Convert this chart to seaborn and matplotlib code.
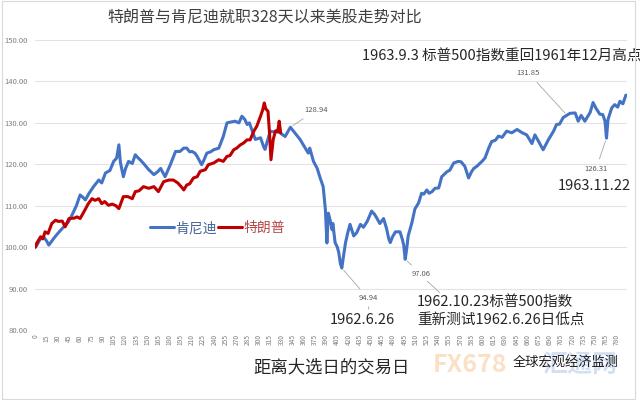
import pandas as pd
import matplotlib.pyplot as plt
import seaborn as sns
from matplotlib.patches import Rectangle

# trading days since election day, index level (day 0 = 100)
kennedy_days = [0, 2, 6, 11, 15, 18, 21, 25, 31, 38, 44, 49, 55, 60, 64, 67, 72, 78, 85, 89,
                94, 100, 105, 109, 112, 114, 118, 121, 125, 130, 134, 138, 141, 146, 152, 159,
                164, 168, 174, 181, 188, 194, 199, 203, 207, 210, 214, 217, 223, 226, 230, 235,
                239, 246, 252, 257, 262, 268, 273, 277, 281, 284, 287, 291, 295, 302, 306, 308,
                313, 315, 320, 324, 328, 335, 342, 348, 355, 360, 362, 366, 368, 373, 378, 382,
                386, 389, 391, 393, 396, 398, 399, 402, 405, 407, 409, 411, 413, 416, 419, 422,
                427, 431, 436, 440, 445, 451, 455, 458, 462, 467, 471, 474, 476, 479, 483, 489,
                492, 494, 496, 498, 500, 505, 509, 514, 518, 521, 525, 528, 532, 536, 541, 545,
                552, 556, 561, 567, 571, 576, 581, 585, 588, 592, 599, 603, 608, 612, 617, 621,
                626, 632, 639, 646, 653, 659, 666, 670, 675, 681, 688, 695, 699, 703, 708, 713,
                717, 724, 728, 732, 737, 744, 748, 752, 757, 761, 764, 766, 768, 773, 777, 781,
                784, 788, 792]
kennedy_vals = [100.0, 100.5, 101.8, 102.5, 101.5, 100.5, 101.2, 102.2, 103.5, 104.9, 106.0,
                107.7, 110.0, 112.6, 112.0, 111.4, 113.0, 114.6, 116.2, 115.5, 117.9, 118.5,
                120.7, 121.5, 124.7, 120.5, 117.0, 119.0, 120.7, 120.2, 122.3, 121.5, 121.0,
                120.0, 118.7, 117.5, 118.2, 119.0, 117.0, 119.9, 123.1, 123.1, 123.9, 123.9,
                123.0, 123.1, 122.7, 121.9, 119.9, 121.0, 122.7, 123.0, 123.5, 123.9, 126.7,
                130.0, 130.2, 130.4, 130.0, 131.6, 130.8, 129.6, 130.0, 128.0, 126.0, 126.4,
                124.3, 123.6, 126.7, 128.0, 127.8, 128.2, 127.6, 126.7, 128.94, 127.6, 126.0,
                124.5, 123.9, 122.7, 123.9, 120.7, 119.0, 116.7, 114.6, 109.0, 101.0, 108.2,
                106.0, 104.2, 105.7, 101.1, 100.0, 98.6, 96.1, 94.94, 97.5, 101.1, 103.5, 105.5,
                102.7, 103.5, 105.5, 104.8, 106.2, 108.7, 107.9, 107.0, 105.7, 106.9, 104.5,
                102.0, 101.1, 102.5, 103.7, 103.7, 102.0, 100.5, 97.06, 99.5, 102.7, 105.9,
                109.2, 110.7, 113.0, 112.8, 113.8, 113.0, 113.4, 114.2, 114.3, 117.0, 118.2,
                118.6, 120.3, 120.7, 120.6, 119.5, 116.7, 118.2, 119.0, 119.5, 120.7, 121.5,
                123.9, 125.5, 125.8, 126.8, 126.5, 128.0, 127.6, 128.4, 127.6, 127.1, 125.0,
                127.1, 125.5, 123.5, 125.9, 128.0, 129.6, 129.7, 131.3, 131.85, 132.3, 132.4,
                130.4, 131.8, 130.4, 132.5, 134.9, 133.5, 132.1, 132.0, 130.4, 126.31, 130.8,
                133.6, 134.4, 133.8, 135.2, 134.6, 136.7]

trump_days = [0, 2, 7, 10, 13, 17, 22, 27, 31, 36, 40, 45, 52, 56, 60, 65, 71, 76, 80, 85,
              89, 93, 98, 103, 108, 112, 118, 124, 130, 134, 139, 145, 152, 159, 165, 172, 179,
              185, 191, 197, 199, 203, 207, 212, 217, 221, 228, 232, 239, 246, 252, 257, 261,
              266, 270, 275, 279, 284, 288, 293, 297, 302, 305, 307, 309, 312, 314, 316, 319,
              322, 325, 327, 329]
trump_vals = [100.0, 101.0, 102.5, 102.0, 103.7, 103.3, 105.7, 106.5, 106.2, 106.3, 104.9,
              106.9, 107.0, 107.3, 106.9, 108.5, 110.5, 111.7, 111.3, 111.7, 110.5, 111.0,
              110.1, 110.4, 110.0, 109.3, 112.2, 112.2, 111.7, 113.4, 113.6, 114.6, 114.2,
              114.6, 113.4, 115.8, 116.2, 116.2, 115.5, 114.3, 113.8, 115.0, 115.3, 116.7,
              117.0, 118.3, 118.7, 119.9, 120.3, 121.1, 120.7, 121.9, 122.1, 123.5, 123.9,
              124.7, 125.1, 125.9, 125.9, 128.0, 129.2, 131.6, 133.2, 134.8, 133.4, 132.8,
              127.6, 121.1, 126.0, 128.0, 127.8, 130.4, 127.6]

y_ticks = [80, 90, 100, 110, 120, 130, 140, 150]
x_ticks = list(range(0, 781, 15))

blue = '#4472c4'
red = '#c00000'

sns.set_style('white')
plt.rcParams['font.family'] = ['Noto Sans CJK SC', 'DejaVu Sans']
plt.rcParams['axes.unicode_minus'] = False

fig = plt.figure(figsize=(6.4, 4), dpi=100)
ax = fig.add_axes([35 / 640, 0.175, 592 / 640, 0.725])

kdf = pd.DataFrame({'day': kennedy_days, 'val': kennedy_vals})
tdf = pd.DataFrame({'day': trump_days, 'val': trump_vals})
sns.lineplot(data=kdf, x='day', y='val', color=blue, lw=2.2, ax=ax, label='肯尼迪')
sns.lineplot(data=tdf, x='day', y='val', color=red, lw=2.2, ax=ax, label='特朗普')

ax.set_xlim(-0.5, 793.5)
ax.set_ylim(80, 150)
ax.set_yticks(y_ticks)
ax.set_yticklabels([f'{v:.2f}' for v in y_ticks], fontsize=5.5, color='#7f7f7f')
ax.set_xticks(x_ticks)
ax.set_xticklabels([str(v) for v in x_ticks], fontsize=4.8, color='#7f7f7f', rotation=90)
ax.tick_params(length=0, pad=5)
ax.tick_params(axis='x', pad=3)
ax.grid(axis='y', color='#e3e3e3', lw=0.8)
for s in ax.spines.values():
    s.set_visible(False)
ax.set_xlabel('')
ax.set_ylabel('')

leg = ax.legend(loc='center left', bbox_to_anchor=(143 / 640, 1 - 228 / 400),
                bbox_transform=fig.transFigure, frameon=False, ncol=2, fontsize=10,
                handlelength=1.7, handletextpad=0.1, columnspacing=0.1, borderpad=0)
leg.get_texts()[0].set_color('#44639a')
leg.get_texts()[1].set_color('#b54a4a')

# small data labels with leader lines
lab = dict(fontsize=5.5, color='#595959')
line = dict(arrowstyle='-', color='#a6a6a6', lw=0.6)
ax.annotate('128.94', xy=(342, 128.94), xytext=(361, 133.1), va='center', ha='left',
            arrowprops=line, **lab)
ax.annotate('94.94', xy=(411, 94.94), xytext=(433, 87.7), va='center', ha='left',
            arrowprops=line, **lab)
ax.annotate('97.06', xy=(496, 97.06), xytext=(505, 93.5), va='center', ha='left',
            arrowprops=line, **lab)
ax.annotate('131.85', xy=(713, 131.85), xytext=(677, 142.0), va='center', ha='right',
            arrowprops=line, **lab)
ax.annotate('126.31', xy=(766, 126.31), xytext=(752, 118.9), va='center', ha='center',
            arrowprops=line, **lab)
ax.annotate('', xy=(545, 88.6), xytext=(523, 92.2), arrowprops=line, annotation_clip=False)
ax.annotate('', xy=(447, 85.0), xytext=(447, 86.3), arrowprops=line, annotation_clip=False)

# big notes
note = dict(fontsize=10.5, color='#262626')
ax.text(438, 145.9, '1963.9.3 标普500指数重回1961年12月高点', ha='left', va='center', **note)
ax.text(700, 114.8, '1963.11.22', ha='left', va='center', **note)
ax.text(438, 82.4, '1962.6.26', ha='center', va='center', clip_on=False, **note)
ax.text(512, 86.8, '1962.10.23标普500指数', ha='left', va='center', clip_on=False, **note)
ax.text(512, 82.4, '重新测试1962.6.26日低点', ha='left', va='center', clip_on=False, **note)

fig.text(265 / 640, 1 - 18 / 400, '特朗普与肯尼迪就职328天以来美股走势对比',
         ha='center', va='center', fontsize=11.5, color='#404040')
fig.text(332 / 640, 1 - 367 / 400, '距离大选日的交易日', ha='center', va='center',
         fontsize=12.5, color='#262626')

# watermark (faint logo text, sits behind the credit line as in the original)
fig.text(470 / 640, 1 - 365 / 400, 'FX678', ha='center', va='center', fontsize=18,
         fontweight='bold', color='#f7c48f', alpha=0.5)
fig.text(580 / 640, 1 - 365 / 400, '汇通网', ha='center', va='center', fontsize=18,
         fontweight='bold', color='#a9c1e6', alpha=0.5)
fig.text(566 / 640, 1 - 363 / 400, '全球宏观经济监测', ha='center', va='center',
         fontsize=9.5, color='#1a1a1a')

fig.patches.append(Rectangle((0.003, 0.003), 0.989, 0.994, transform=fig.transFigure,
                             fill=False, ec='#d9d9d9', lw=0.8))

fig.savefig('out.png', dpi=100)
